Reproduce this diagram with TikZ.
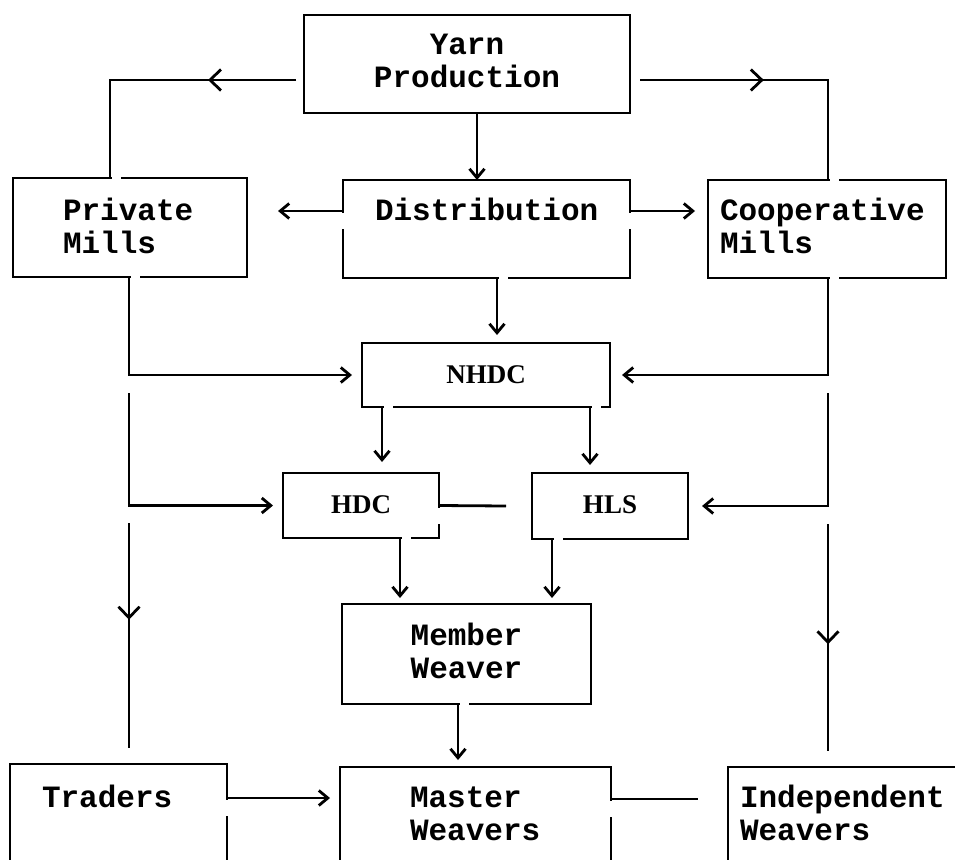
\documentclass[tikz,border=0pt]{standalone}
\usepackage{fontspec}
\usepackage{tikz}
\usetikzlibrary{arrows.meta}
\usetikzlibrary{calc}
\usetikzlibrary{decorations.markings}
\newfontfamily\typefont{Liberation Mono}
\newfontfamily\plainfont{Liberation Serif}
\newcommand{\boxtext}{\typefont\bfseries\fontsize{31}{33}\selectfont}
\newcommand{\agencytext}{\plainfont\bfseries\fontsize{27}{30}\selectfont}
\tikzset{
  box/.style={draw, line width=2.8pt, anchor=north west, outer sep=0pt, inner ysep=0pt, align=left, font=\boxtext},
  agency/.style={box, font=\agencytext, align=center, inner xsep=10pt, text height=40pt},
  conn/.style={line width=2.8pt},
  gap/.style={draw=white, line width=4.4pt},
  midarrow/.style={postaction={decorate}, decoration={markings, mark=at position #1 with {\arrow{Straight Barb[length=11pt,width=21pt]}}}}
}
\begin{document}
\begin{tikzpicture}[>={Straight Barb[length=9pt,width=15pt]},x=1pt,y=-1pt]
      \useasboundingbox (0,0) rectangle (955,859);
      \clip (0,0) rectangle (955,859);
      % boxes
      \node[box, align=center, text width=306pt, inner xsep=10pt, text height=40pt, text depth=58pt] (yarn) at (304,15) {Yarn\\Production};
      \node[box, text width=134pt, inner xsep=50pt, text height=42pt, text depth=57pt] (private) at (13,178) {Private\\Mills};
      \node[box, text width=223pt, inner xsep=32pt, text height=40pt, text depth=58pt] (distrib) at (343,180) {Distribution};
      \node[box, text width=214pt, inner xsep=12pt, text height=40pt, text depth=58pt] (coop) at (708,180) {Cooperative\\Mills};
      \node[agency, text width=228pt, text depth=24pt] (nhdc) at (362,343) {NHDC};
      \node[agency, text width=136pt, text depth=25pt] (hdc) at (283,473) {HDC};
      \node[agency, text width=136pt, text depth=26pt] (hls) at (532,473) {HLS};
      \node[box, align=center, text width=229pt, inner xsep=10pt, text height=41pt, text depth=59pt] (member) at (342,604) {Member\\Weaver};
      \node[box, text width=153pt, inner xsep=32pt, text height=43pt, text depth=77pt] (traders) at (10,764) {Traders};
      \node[box, text width=131pt, inner xsep=70pt, text height=40pt, text depth=80pt] (master) at (340,767) {Master\\Weavers};
      \node[box, text width=226pt, inner xsep=12pt, text height=40pt, text depth=80pt] (indep) at (728,767) {Independent\\Weavers};
      % breaks in the box edges
      \foreach \p/\dx in {private.north west/99, private.south west/118, coop.north west/122, coop.south west/122,
          distrib.south west/156, nhdc.south west/22, nhdc.south west/230, hdc.south west/119,
          hls.south west/22, member.south west/118}
      \draw[gap] ($(\p)+(\dx,0)$) -- ++(9,0);
      \foreach \p/\dy in {distrib.north west/33, distrib.north east/33, hdc.north east/35,
          traders.north east/36, master.north east/34}
      \draw[gap] ($(\p)+(0,\dy)$) -- ++(0,16);
      % yarn flows
      \draw[conn, midarrow=0.31] ($(yarn.west)+(-8,16)$) -| ($(private.north west)+(97,0)$);
      \draw[conn, midarrow=0.43] ($(yarn.east)+(10,16)$) -| ($(coop.north west)+(120,0)$);
      \draw[conn,->] ($(yarn.south)+(10,0)$) -- ($(distrib.north west)+(134,0)$);
      \draw[conn,->] ($(distrib.north west)+(0,31)$) -- ($(private.north east)+(31,33)$);
      \draw[conn,->] ($(distrib.north east)+(0,31)$) -- ($(coop.north west)+(-13,31)$);
      \draw[conn,->] ($(distrib.south west)+(154,0)$) -- ($(nhdc.north west)+(135,-8)$);
      % private mills side
      \draw[conn,->] ($(private.south west)+(116,0)$) |- ($(nhdc.west)+(-10,0)$);
      \draw[conn,->] ($(private.south west)+(116,116)$) |- ($(hdc.west)+(-10,0)$);
      \draw[conn, midarrow=0.43] ($(private.south west)+(116,246)$) -- ($(traders.north west)+(119,-16)$);
      % cooperative mills side
      \draw[conn,->] ($(coop.south west)+(120,0)$) |- ($(nhdc.east)+(12,0)$);
      \draw[conn,->] ($(coop.south west)+(120,115)$) |- ($(hls.east)+(14,0)$);
      \draw[conn, midarrow=0.53] ($(coop.south west)+(120,246)$) -- ($(indep.north west)+(100,-16)$);
      % agencies
      \draw[conn,->] ($(nhdc.south west)+(20,0)$) -- ($(hdc.north west)+(99,-11)$);
      \draw[conn,->] ($(nhdc.south west)+(228,0)$) -- ($(hls.north west)+(58,-8)$);
      \coordinate (hdcend) at ($(hls.west)+(-26,0)$);
      \draw[conn] (hdc.east) -- (hdcend);
      \draw[conn,->] ($(hdc.south west)+(117,0)$) -- ($(member.north west)+(58,-6)$);
      \draw[conn,->] ($(hls.south west)+(20,0)$) -- ($(member.north west)+(210,-6)$);
      % weavers
      \draw[conn,->] ($(member.south west)+(116,0)$) -- ($(master.north west)+(118,-7)$);
      \draw[conn,->] ($(traders.north east)+(0,34)$) -- ($(master.north west)+(-10,31)$);
      \coordinate (masterend) at ($(indep.north west)+(-30,32)$);
      \draw[conn] ($(master.north east)+(0,32)$) -- (masterend);
\end{tikzpicture}
\end{document}
